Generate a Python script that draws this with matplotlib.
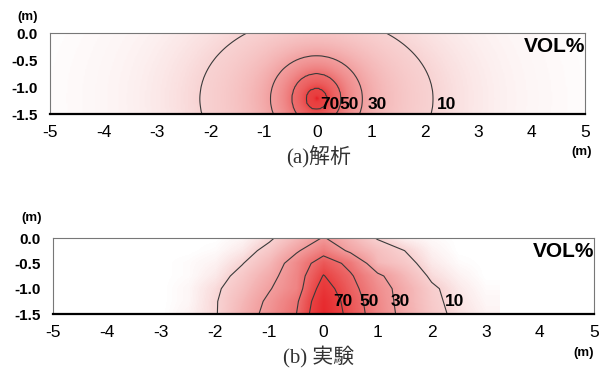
import numpy as np
import matplotlib
matplotlib.use('Agg')
import matplotlib.pyplot as plt
from matplotlib.colors import LinearSegmentedColormap, Normalize

# (a) analysis: iso-concentration ellipses around the source
src_x, src_y = -0.02, -1.22
ana_conc = [95, 70, 50, 30, 10, 3, 0]
ana_half_w = [0.02, 0.20, 0.46, 0.86, 2.18, 3.6, 5.8]
ana_half_h = [0.02, 0.20, 0.47, 0.80, 1.52, 2.6, 4.0]

# (b) experiment: measured grid (VOL%)
exp_x = [-3, -2.5, -2, -1.5, -1, -0.5, 0, 0.5, 1, 1.5, 2, 2.5, 3]
exp_y = [0, -0.25, -0.5, -0.75, -1.0, -1.25, -1.5]
exp_vals = [
    [0, 0, 0, 2, 8, 19, 31, 20, 9, 3, 1, 0, 0],
    [0, 0, 1, 5, 14, 28, 43, 27, 17, 10, 3, 0, 0],
    [0, 1, 3, 9.5, 20, 38, 60, 45, 20, 14, 5, 1, 0],
    [0, 1, 5, 14, 25, 40, 71, 52, 33, 20, 8, 3, 0],
    [0, 2, 8, 17, 29, 41, 80, 56, 37, 24, 12, 5, 1],
    [0, 2, 9, 20, 33, 47, 88, 60, 39, 24, 13, 6, 2],
    [0, 3, 9, 22, 35, 50, 92, 62, 40, 25, 14, 7, 3],
]

levels = [10, 30, 50, 70]
xticks = [-5, -4, -3, -2, -1, 0, 1, 2, 3, 4, 5]
yticks = [0.0, -0.5, -1.0, -1.5]
ytick_labels = ['0.0', '-0.5', '-1.0', '-1.5']

cmap_conc = [0, 10, 30, 50, 70, 100]
cmap_cols = ['#ffffff', '#f8d2d2', '#f29e9e', '#ed6e6e', '#e94343', '#e61e24']
cmap = LinearSegmentedColormap.from_list(
    'vol', [(c / 100.0, col) for c, col in zip(cmap_conc, cmap_cols)])
norm = Normalize(0, 100)

bold = ['Liberation Sans', 'DejaVu Sans']

# analysis field on a fine grid
gx = np.linspace(-5, 5, 401)
gy = np.linspace(-1.5, 0, 61)
X, Y = np.meshgrid(gx, gy)
e = np.array([np.hypot((X - src_x) / a, (Y - src_y) / b)
              for a, b in zip(ana_half_w, ana_half_h)])[::-1]
conc_rev = ana_conc[::-1]
Z_ana = np.empty_like(X)
for i in range(X.shape[0]):
    for j in range(X.shape[1]):
        Z_ana[i, j] = np.interp(1.0, e[:, i, j], conc_rev)

Z_exp = np.array(exp_vals)

fig = plt.figure(figsize=(6.04, 3.69), dpi=100)
ax1 = fig.add_axes([0.0828, 0.691, 0.8858, 0.2195])
ax2 = fig.add_axes([0.0877, 0.149, 0.8957, 0.206])


def style(ax):
    ax.set_xlim(-5, 5)
    ax.set_ylim(-1.5, 0)
    ax.set_xticks(xticks)
    ax.set_xticklabels([str(t) for t in xticks], fontsize=12.5, family=bold)
    ax.set_yticks(yticks)
    ax.set_yticklabels(ytick_labels, fontsize=11, family=bold,
                       fontweight='bold')
    ax.tick_params(length=0)
    ax.tick_params(axis='x', pad=8)
    ax.tick_params(axis='y', pad=9)
    for s in ['left', 'top', 'right']:
        ax.spines[s].set_color('#777777')
        ax.spines[s].set_linewidth(0.8)
    ax.spines['bottom'].set_color('black')
    ax.spines['bottom'].set_linewidth(1.6)
    ax.text(1.0, 0.95, 'VOL%', transform=ax.transAxes, ha='right', va='top',
            fontsize=15, fontweight='bold', family=bold)


# (a)
ax1.imshow(Z_ana, extent=[-5, 5, -1.5, 0], origin='lower', aspect='auto',
           cmap=cmap, norm=norm, interpolation='bilinear')
ax1.contour(gx, gy, Z_ana, levels=levels, colors='#3a3a3a', linewidths=0.8)
style(ax1)
for lx, lab in zip([0.05, 0.4, 0.94, 2.23], ['70', '50', '30', '10']):
    ax1.text(lx, -1.47, lab, ha='left', va='bottom', fontsize=12.5,
             fontweight='bold', family=bold)

# (b)
dxh, dyh = 0.25, 0.125
ax2.imshow(Z_exp, extent=[exp_x[0] - dxh, exp_x[-1] + dxh,
                          exp_y[-1] - dyh, exp_y[0] + dyh],
           origin='upper', aspect='auto', cmap=cmap, norm=norm,
           interpolation='bilinear')
ax2.contour(exp_x, exp_y, Z_exp, levels=levels, colors='#3a3a3a',
            linewidths=0.8)
style(ax2)
for lx, lab in zip([0.18, 0.66, 1.25, 2.25], ['70', '50', '30', '10']):
    ax2.text(lx, -1.41, lab, ha='left', va='bottom', fontsize=12.5,
             fontweight='bold', family=bold)

# unit labels and captions
for x, y in [(0.046, 0.955), (0.963, 0.588), (0.052, 0.41), (0.966, 0.044)]:
    fig.text(x, y, '(m)', ha='center', va='center', fontsize=9.5,
             fontweight='bold', family=bold)

cap = ['Liberation Serif', 'Noto Sans CJK JP']
fig.text(0.527, 0.575, '(a)解析', ha='center', va='center', fontsize=15,
         color='#333333', family=cap)
fig.text(0.527, 0.033, '(b) 実験', ha='center', va='center', fontsize=15,
         color='#333333', family=cap)

plt.savefig('out.png', dpi=100)
